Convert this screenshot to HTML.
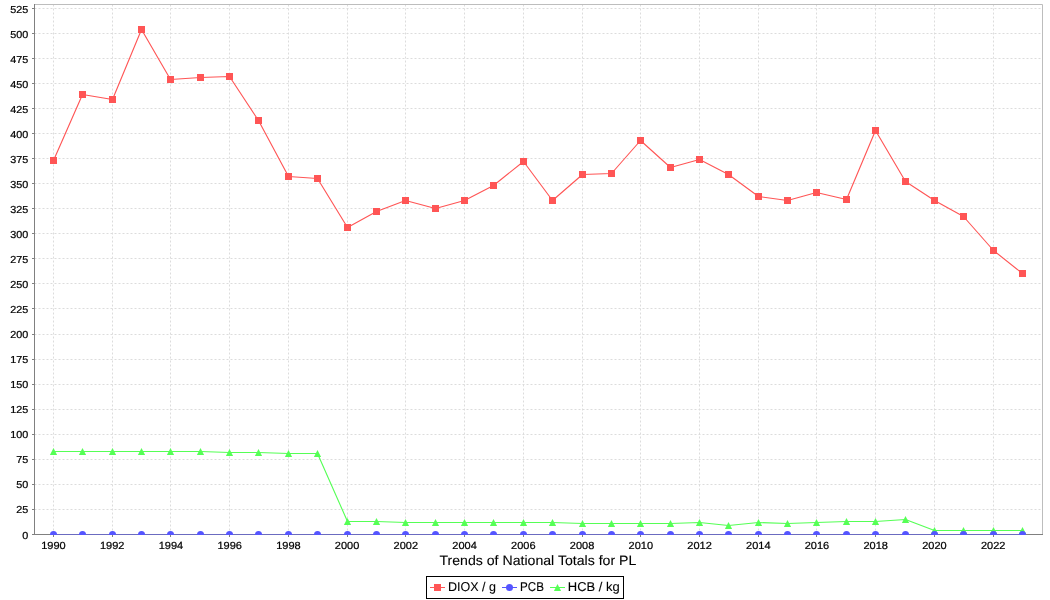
<!DOCTYPE html><html><head><meta charset="utf-8"><style>html,body{margin:0;padding:0;background:#fff;overflow:hidden;}svg{display:block;will-change:transform;}text{font-family:"Liberation Sans",sans-serif;fill:#000;text-rendering:geometricPrecision;}.t{stroke:#000;stroke-width:0.22px;paint-order:stroke fill;stroke-linejoin:round;}.u{stroke:#000;stroke-width:0.1px;paint-order:stroke fill;stroke-linejoin:round;}</style></head><body>
<svg width="1050" height="600" viewBox="0 0 1050 600">
<rect x="0" y="0" width="1050" height="600" fill="#fff"/>
<defs><clipPath id="pc"><rect x="34" y="4" width="1009" height="531"/></clipPath></defs>
<path d="M34.5,509.5H1042M34.5,484.5H1042M34.5,459.5H1042M34.5,434.5H1042M34.5,409.5H1042M34.5,384.5H1042M34.5,359.5H1042M34.5,334.5H1042M34.5,308.5H1042M34.5,283.5H1042M34.5,258.5H1042M34.5,233.5H1042M34.5,208.5H1042M34.5,183.5H1042M34.5,158.5H1042M34.5,133.5H1042M34.5,108.5H1042M34.5,83.5H1042M34.5,58.5H1042M34.5,33.5H1042M34.5,8.5H1042" stroke="#dcdcdc" stroke-width="1" stroke-dasharray="2 2" fill="none"/>
<path d="M53.5,4.5V534M112.5,4.5V534M170.5,4.5V534M229.5,4.5V534M288.5,4.5V534M347.5,4.5V534M405.5,4.5V534M464.5,4.5V534M523.5,4.5V534M582.5,4.5V534M640.5,4.5V534M699.5,4.5V534M758.5,4.5V534M816.5,4.5V534M875.5,4.5V534M934.5,4.5V534M993.5,4.5V534" stroke="#dcdcdc" stroke-width="1" stroke-dasharray="2 2" fill="none"/>
<path d="M34,4.5H1042.5V534" stroke="#bdbdbd" stroke-width="1" fill="none"/>
<path d="M34.5,4V535M34,534.5H1043" stroke="#808080" stroke-width="1" fill="none"/>
<path d="M32,534.5H34M32,509.5H34M32,484.5H34M32,459.5H34M32,434.5H34M32,409.5H34M32,384.5H34M32,359.5H34M32,334.5H34M32,308.5H34M32,283.5H34M32,258.5H34M32,233.5H34M32,208.5H34M32,183.5H34M32,158.5H34M32,133.5H34M32,108.5H34M32,83.5H34M32,58.5H34M32,33.5H34M32,8.5H34M53.5,535V537M112.5,535V537M170.5,535V537M229.5,535V537M288.5,535V537M347.5,535V537M405.5,535V537M464.5,535V537M523.5,535V537M582.5,535V537M640.5,535V537M699.5,535V537M758.5,535V537M816.5,535V537M875.5,535V537M934.5,535V537M993.5,535V537" stroke="#808080" stroke-width="1" fill="none"/>
<text transform="translate(28.35,539) scale(1.07,1)" class="t" font-size="10.1" text-anchor="end">0</text>
<text transform="translate(28.35,513) scale(1.07,1)" class="t" font-size="10.1" text-anchor="end">25</text>
<text transform="translate(28.35,488) scale(1.07,1)" class="t" font-size="10.1" text-anchor="end">50</text>
<text transform="translate(28.35,463) scale(1.07,1)" class="t" font-size="10.1" text-anchor="end">75</text>
<text transform="translate(28.35,438) scale(1.07,1)" class="t" font-size="10.1" text-anchor="end">100</text>
<text transform="translate(28.35,413) scale(1.07,1)" class="t" font-size="10.1" text-anchor="end">125</text>
<text transform="translate(28.35,388) scale(1.07,1)" class="t" font-size="10.1" text-anchor="end">150</text>
<text transform="translate(28.35,363) scale(1.07,1)" class="t" font-size="10.1" text-anchor="end">175</text>
<text transform="translate(28.35,338) scale(1.07,1)" class="t" font-size="10.1" text-anchor="end">200</text>
<text transform="translate(28.35,313) scale(1.07,1)" class="t" font-size="10.1" text-anchor="end">225</text>
<text transform="translate(28.35,288) scale(1.07,1)" class="t" font-size="10.1" text-anchor="end">250</text>
<text transform="translate(28.35,263) scale(1.07,1)" class="t" font-size="10.1" text-anchor="end">275</text>
<text transform="translate(28.35,238) scale(1.07,1)" class="t" font-size="10.1" text-anchor="end">300</text>
<text transform="translate(28.35,213) scale(1.07,1)" class="t" font-size="10.1" text-anchor="end">325</text>
<text transform="translate(28.35,188) scale(1.07,1)" class="t" font-size="10.1" text-anchor="end">350</text>
<text transform="translate(28.35,163) scale(1.07,1)" class="t" font-size="10.1" text-anchor="end">375</text>
<text transform="translate(28.35,138) scale(1.07,1)" class="t" font-size="10.1" text-anchor="end">400</text>
<text transform="translate(28.35,113) scale(1.07,1)" class="t" font-size="10.1" text-anchor="end">425</text>
<text transform="translate(28.35,88) scale(1.07,1)" class="t" font-size="10.1" text-anchor="end">450</text>
<text transform="translate(28.35,63) scale(1.07,1)" class="t" font-size="10.1" text-anchor="end">475</text>
<text transform="translate(28.35,38) scale(1.07,1)" class="t" font-size="10.1" text-anchor="end">500</text>
<text transform="translate(28.35,13) scale(1.07,1)" class="t" font-size="10.1" text-anchor="end">525</text>
<text transform="translate(53.45,549.2) scale(1.06,1)" class="t" font-size="10.4" text-anchor="middle">1990</text>
<text transform="translate(112.18,549.2) scale(1.06,1)" class="t" font-size="10.4" text-anchor="middle">1992</text>
<text transform="translate(170.92,549.2) scale(1.06,1)" class="t" font-size="10.4" text-anchor="middle">1994</text>
<text transform="translate(229.65,549.2) scale(1.06,1)" class="t" font-size="10.4" text-anchor="middle">1996</text>
<text transform="translate(288.39,549.2) scale(1.06,1)" class="t" font-size="10.4" text-anchor="middle">1998</text>
<text transform="translate(347.12,549.2) scale(1.06,1)" class="t" font-size="10.4" text-anchor="middle">2000</text>
<text transform="translate(405.85,549.2) scale(1.06,1)" class="t" font-size="10.4" text-anchor="middle">2002</text>
<text transform="translate(464.59,549.2) scale(1.06,1)" class="t" font-size="10.4" text-anchor="middle">2004</text>
<text transform="translate(523.32,549.2) scale(1.06,1)" class="t" font-size="10.4" text-anchor="middle">2006</text>
<text transform="translate(582.06,549.2) scale(1.06,1)" class="t" font-size="10.4" text-anchor="middle">2008</text>
<text transform="translate(640.79,549.2) scale(1.06,1)" class="t" font-size="10.4" text-anchor="middle">2010</text>
<text transform="translate(699.52,549.2) scale(1.06,1)" class="t" font-size="10.4" text-anchor="middle">2012</text>
<text transform="translate(758.26,549.2) scale(1.06,1)" class="t" font-size="10.4" text-anchor="middle">2014</text>
<text transform="translate(816.99,549.2) scale(1.06,1)" class="t" font-size="10.4" text-anchor="middle">2016</text>
<text transform="translate(875.73,549.2) scale(1.06,1)" class="t" font-size="10.4" text-anchor="middle">2018</text>
<text transform="translate(934.46,549.2) scale(1.06,1)" class="t" font-size="10.4" text-anchor="middle">2020</text>
<text transform="translate(993.19,549.2) scale(1.06,1)" class="t" font-size="10.4" text-anchor="middle">2022</text>
<g clip-path="url(#pc)">
<polyline points="53.50,451.50 82.50,451.50 112.50,451.50 141.50,451.50 170.50,451.50 200.50,451.50 229.50,452.50 258.50,452.50 288.50,453.50 317.50,453.50 347.50,521.50 376.50,521.50 405.50,522.50 435.50,522.50 464.50,522.50 493.50,522.50 523.50,522.50 552.50,522.50 582.50,523.50 611.50,523.50 640.50,523.50 670.50,523.50 699.50,522.50 728.50,525.50 758.50,522.50 787.50,523.50 816.50,522.50 846.50,521.50 875.50,521.50 905.50,519.50 934.50,530.50 963.50,530.50 993.50,530.50 1022.50,530.50" fill="none" stroke="#55ff55" stroke-width="1.12" stroke-linejoin="round"/>
<polyline points="53.50,534.50 82.50,534.50 112.50,534.50 141.50,534.50 170.50,534.50 200.50,534.50 229.50,534.50 258.50,534.50 288.50,534.50 317.50,534.50 347.50,534.50 376.50,534.50 405.50,534.50 435.50,534.50 464.50,534.50 493.50,534.50 523.50,534.50 552.50,534.50 582.50,534.50 611.50,534.50 640.50,534.50 670.50,534.50 699.50,534.50 728.50,534.50 758.50,534.50 787.50,534.50 816.50,534.50 846.50,534.50 875.50,534.50 905.50,534.50 934.50,534.50 963.50,534.50 993.50,534.50 1022.50,534.50" fill="none" stroke="#5555ff" stroke-opacity="0.5" stroke-width="1.12" stroke-linejoin="round"/>
<polyline points="53.50,160.50 82.50,94.50 112.50,99.50 141.50,29.50 170.50,79.50 200.50,77.50 229.50,76.50 258.50,120.50 288.50,176.50 317.50,178.50 347.50,227.50 376.50,211.50 405.50,200.50 435.50,208.50 464.50,200.50 493.50,185.50 523.50,161.50 552.50,200.50 582.50,174.50 611.50,173.50 640.50,140.50 670.50,167.50 699.50,159.50 728.50,174.50 758.50,196.50 787.50,200.50 816.50,192.50 846.50,199.50 875.50,130.50 905.50,181.50 934.50,200.50 963.50,216.50 993.50,250.50 1022.50,273.50" fill="none" stroke="#ff5555" stroke-width="1.12" stroke-linejoin="round"/>
<path d="M53.5,447.9L57.1,455.0H49.9zM82.5,447.9L86.1,455.0H78.9zM112.5,447.9L116.1,455.0H108.9zM141.5,447.9L145.1,455.0H137.9zM170.5,447.9L174.1,455.0H166.9zM200.5,447.9L204.1,455.0H196.9zM229.5,448.9L233.1,456.0H225.9zM258.5,448.9L262.1,456.0H254.9zM288.5,449.9L292.1,457.0H284.9zM317.5,449.9L321.1,457.0H313.9zM347.5,517.9L351.1,525.0H343.9zM376.5,517.9L380.1,525.0H372.9zM405.5,518.9L409.1,526.0H401.9zM435.5,518.9L439.1,526.0H431.9zM464.5,518.9L468.1,526.0H460.9zM493.5,518.9L497.1,526.0H489.9zM523.5,518.9L527.1,526.0H519.9zM552.5,518.9L556.1,526.0H548.9zM582.5,519.9L586.1,527.0H578.9zM611.5,519.9L615.1,527.0H607.9zM640.5,519.9L644.1,527.0H636.9zM670.5,519.9L674.1,527.0H666.9zM699.5,518.9L703.1,526.0H695.9zM728.5,521.9L732.1,529.0H724.9zM758.5,518.9L762.1,526.0H754.9zM787.5,519.9L791.1,527.0H783.9zM816.5,518.9L820.1,526.0H812.9zM846.5,517.9L850.1,525.0H842.9zM875.5,517.9L879.1,525.0H871.9zM905.5,515.9L909.1,523.0H901.9zM934.5,526.9L938.1,534.0H930.9zM963.5,526.9L967.1,534.0H959.9zM993.5,526.9L997.1,534.0H989.9zM1022.5,526.9L1026.1,534.0H1018.9z" fill="#55ff55"/>
<g fill="#5555ff"><circle cx="53.5" cy="534.5" r="3.5"/><circle cx="82.5" cy="534.5" r="3.5"/><circle cx="112.5" cy="534.5" r="3.5"/><circle cx="141.5" cy="534.5" r="3.5"/><circle cx="170.5" cy="534.5" r="3.5"/><circle cx="200.5" cy="534.5" r="3.5"/><circle cx="229.5" cy="534.5" r="3.5"/><circle cx="258.5" cy="534.5" r="3.5"/><circle cx="288.5" cy="534.5" r="3.5"/><circle cx="317.5" cy="534.5" r="3.5"/><circle cx="347.5" cy="534.5" r="3.5"/><circle cx="376.5" cy="534.5" r="3.5"/><circle cx="405.5" cy="534.5" r="3.5"/><circle cx="435.5" cy="534.5" r="3.5"/><circle cx="464.5" cy="534.5" r="3.5"/><circle cx="493.5" cy="534.5" r="3.5"/><circle cx="523.5" cy="534.5" r="3.5"/><circle cx="552.5" cy="534.5" r="3.5"/><circle cx="582.5" cy="534.5" r="3.5"/><circle cx="611.5" cy="534.5" r="3.5"/><circle cx="640.5" cy="534.5" r="3.5"/><circle cx="670.5" cy="534.5" r="3.5"/><circle cx="699.5" cy="534.5" r="3.5"/><circle cx="728.5" cy="534.5" r="3.5"/><circle cx="758.5" cy="534.5" r="3.5"/><circle cx="787.5" cy="534.5" r="3.5"/><circle cx="816.5" cy="534.5" r="3.5"/><circle cx="846.5" cy="534.5" r="3.5"/><circle cx="875.5" cy="534.5" r="3.5"/><circle cx="905.5" cy="534.5" r="3.5"/><circle cx="934.5" cy="534.5" r="3.5"/><circle cx="963.5" cy="534.5" r="3.5"/><circle cx="993.5" cy="534.5" r="3.5"/><circle cx="1022.5" cy="534.5" r="3.5"/></g>
<path d="M50.0,157.0h7v7h-7zM79.0,91.0h7v7h-7zM109.0,96.0h7v7h-7zM138.0,26.0h7v7h-7zM167.0,76.0h7v7h-7zM197.0,74.0h7v7h-7zM226.0,73.0h7v7h-7zM255.0,117.0h7v7h-7zM285.0,173.0h7v7h-7zM314.0,175.0h7v7h-7zM344.0,224.0h7v7h-7zM373.0,208.0h7v7h-7zM402.0,197.0h7v7h-7zM432.0,205.0h7v7h-7zM461.0,197.0h7v7h-7zM490.0,182.0h7v7h-7zM520.0,158.0h7v7h-7zM549.0,197.0h7v7h-7zM579.0,171.0h7v7h-7zM608.0,170.0h7v7h-7zM637.0,137.0h7v7h-7zM667.0,164.0h7v7h-7zM696.0,156.0h7v7h-7zM725.0,171.0h7v7h-7zM755.0,193.0h7v7h-7zM784.0,197.0h7v7h-7zM813.0,189.0h7v7h-7zM843.0,196.0h7v7h-7zM872.0,127.0h7v7h-7zM902.0,178.0h7v7h-7zM931.0,197.0h7v7h-7zM960.0,213.0h7v7h-7zM990.0,247.0h7v7h-7zM1019.0,270.0h7v7h-7z" fill="#ff5555"/>
</g>
<text transform="translate(439.45,565) scale(1.0382,1)" class="u" font-size="13.6">Trends of National Totals for PL</text>
<rect x="426.5" y="576.5" width="197" height="22" fill="#fff" stroke="#000" stroke-width="1"/>
<path d="M430,587.5h15" stroke="#ff5555" stroke-width="1"/><rect x="434.0" y="584.0" width="7" height="7" fill="#ff5555"/>
<path d="M502,587.5h15" stroke="#5555ff" stroke-width="1"/><circle cx="509.5" cy="587.5" r="3.5" fill="#5555ff"/>
<path d="M550,587.5h15" stroke="#55ff55" stroke-width="1"/><path d="M557.5,583.9L561.1,591.0H553.9z" fill="#55ff55"/>
<text transform="translate(447.90,591) scale(0.9782,1)" class="u" font-size="12.8">DIOX / g</text>
<text transform="translate(519.97,591) scale(0.9091,1)" class="u" font-size="12.8">PCB</text>
<text transform="translate(567.86,591) scale(1.0133,1)" class="u" font-size="12.8">HCB / kg</text>
</svg></body></html>
